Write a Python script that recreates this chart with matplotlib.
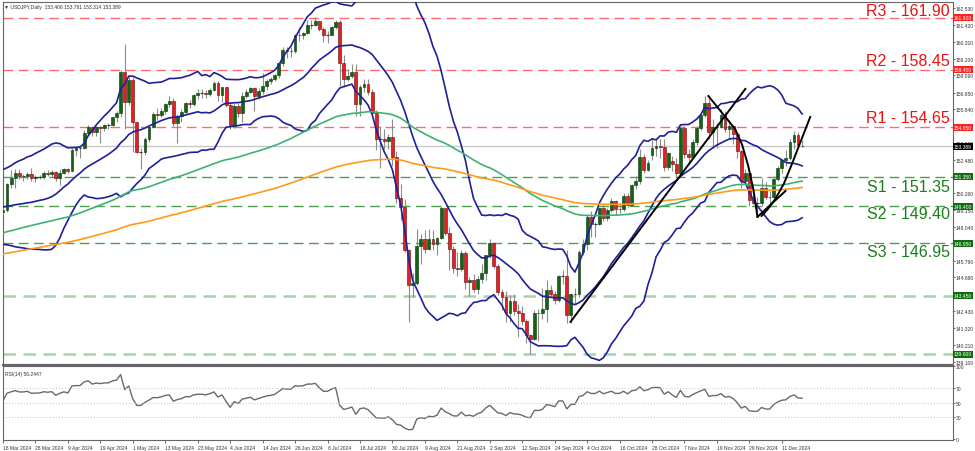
import numpy as np
import pandas as pd
import matplotlib
matplotlib.use('Agg')
import matplotlib.pyplot as plt
from matplotlib import transforms

# closes before the visible window (12 Jun 2023 - 15 Mar 2024), only used to warm up the indicators
prior_closes = [
    139.6, 140.2, 140.0, 140.3, 141.8, 141.9, 141.5, 141.9, 142.7, 143.7,
    143.5, 143.9, 144.4, 144.8, 144.3, 144.6, 144.5, 144.7, 144.1, 142.2,
    141.3, 140.4, 138.5, 138.1, 138.8, 138.7, 139.3, 139.7, 140.0, 141.8,
    141.5, 140.9, 140.3, 139.4, 141.2, 142.3, 143.3, 143.4, 142.5, 141.8,
    142.5, 143.4, 143.8, 144.6, 144.9, 145.6, 145.6, 146.4, 146.0, 145.4,
    146.2, 145.9, 144.8, 145.9, 146.4, 146.5, 145.9, 146.2, 145.5, 146.2,
    146.5, 147.7, 147.6, 147.3, 147.8, 146.6, 147.1, 147.5, 147.5, 147.9,
    147.9, 147.8, 148.3, 147.6, 148.4, 148.9, 149.1, 149.6, 149.3, 149.3,
    149.9, 149.0, 149.1, 148.5, 149.3, 148.5, 148.7, 149.1, 149.8, 149.6,
    149.6, 149.8, 149.8, 149.8, 149.9, 149.7, 149.9, 150.2, 150.4, 149.6,
    149.1, 151.7, 150.9, 150.4, 149.4, 150.0, 150.4, 150.9, 151.3, 151.5,
    151.7, 150.4, 151.3, 150.7, 149.6, 148.3, 148.4, 149.6, 149.5, 149.5,
    148.7, 147.5, 147.3, 148.2, 146.8, 147.2, 147.2, 147.3, 144.2, 144.9,
    146.1, 145.4, 142.9, 141.9, 142.2, 142.8, 143.8, 143.6, 142.1, 142.4,
    142.3, 142.4, 141.8, 141.4, 141.0, 141.0, 141.9, 143.3, 144.6, 144.6,
    144.2, 144.5, 145.7, 145.3, 144.9, 145.7, 147.2, 148.1, 148.1, 148.1,
    148.1, 148.4, 147.5, 147.6, 148.1, 147.5, 147.6, 146.9, 146.4, 148.4,
    148.7, 147.9, 148.2, 149.3, 149.3, 149.3, 150.8, 150.6, 149.9, 150.2,
    150.0, 150.0, 150.3, 150.5, 150.5, 150.7, 150.5, 150.7, 150.0, 150.1,
    150.5, 150.0, 149.4, 148.0, 147.1, 146.9, 147.7, 147.8, 148.3, 149.0,
]

# daily candles 18 Mar 2024 - 18 Dec 2024, one row per week
opens = [
    149.05, 149.15, 150.85, 151.25, 151.60,
    151.40, 151.40, 151.55, 151.30, 151.35,
    151.35, 151.60, 151.55, 151.65, 151.30,
    151.60, 151.85, 151.75, 153.15, 153.25,
    153.25, 154.25, 154.65, 154.35, 154.65,
    154.60, 154.80, 154.80, 155.35, 155.60,
    158.30, 156.35, 157.80, 155.00, 153.00,
    153.00, 153.90, 154.65, 155.50, 155.45,
    155.75, 156.20, 156.40, 154.90, 155.40,
    155.65, 156.25, 156.20, 156.80, 156.95,
    156.95, 156.85, 157.15, 157.60, 156.80,
    157.30, 156.10, 154.75, 156.05, 155.60,
    156.75, 157.00, 157.25, 156.70, 157.05,
    157.40, 157.70, 157.85, 158.10, 158.90,
    159.80, 159.70, 159.70, 160.80, 160.75,
    160.90, 161.45, 161.45, 161.70, 161.20,
    160.80, 160.80, 161.30, 161.65, 158.90,
    157.85, 158.05, 158.30, 156.20, 157.35,
    157.50, 157.00, 155.60, 153.90, 153.90,
    153.75, 154.00, 152.70, 149.95, 149.35,
    146.50, 144.20, 144.30, 146.80, 147.20,
    146.60, 147.20, 146.90, 147.30, 149.30,
    147.60, 146.60, 145.30, 145.25, 146.30,
    144.35, 144.50, 143.90, 144.60, 144.95,
    146.15, 146.95, 145.45, 143.70, 143.40,
    142.30, 143.10, 142.45, 142.35, 141.80,
    140.85, 140.60, 142.35, 142.30, 142.60,
    143.85, 143.60, 143.20, 144.80, 144.80,
    142.20, 143.60, 143.60, 146.40, 146.90,
    148.70, 148.20, 148.20, 149.30, 148.60,
    149.15, 149.75, 149.20, 149.25, 150.10,
    149.50, 150.80, 151.05, 152.70, 151.80,
    152.80, 153.30, 153.40, 153.35, 152.00,
    152.40, 152.20, 151.60, 154.60, 152.90,
    152.65, 153.70, 154.60, 155.45, 156.25,
    154.30, 154.65, 154.65, 155.45, 154.50,
    154.75, 154.20, 153.05, 151.10, 151.60,
    149.80, 149.60, 149.60, 150.60, 150.05,
    150.00, 151.20, 151.95, 152.45, 152.60,
    153.65, 154.15, 153.406,
]
highs = [
    149.35, 150.95, 151.80, 151.85, 151.85,
    151.55, 151.65, 151.95, 151.45, 151.45,
    151.75, 151.80, 151.80, 151.75, 151.85,
    151.95, 151.95, 153.25, 153.35, 153.40,
    154.45, 154.80, 154.75, 154.70, 154.70,
    154.85, 154.95, 155.35, 155.75, 158.45,
    160.20, 157.95, 157.95, 155.00, 153.30,
    154.00, 154.75, 155.65, 155.95, 155.95,
    156.25, 156.75, 156.60, 155.55, 155.85,
    156.30, 156.45, 156.85, 157.20, 157.20,
    157.10, 157.25, 157.70, 157.70, 157.30,
    157.30, 156.30, 156.25, 156.25, 157.00,
    157.20, 157.30, 157.35, 157.25, 158.25,
    157.85, 157.95, 158.20, 158.95, 159.95,
    159.95, 159.95, 160.85, 161.30, 161.00,
    161.75, 161.75, 161.95, 161.70, 161.30,
    161.05, 161.40, 161.75, 161.75, 159.45,
    158.50, 158.85, 158.85, 157.45, 157.85,
    157.85, 157.20, 155.80, 154.70, 154.50,
    154.20, 155.20, 153.10, 150.90, 149.90,
    146.55, 145.00, 147.90, 147.55, 147.80,
    147.90, 147.85, 147.35, 149.40, 149.20,
    148.00, 146.75, 146.40, 146.50, 146.45,
    144.70, 144.90, 144.75, 145.55, 146.20,
    147.20, 147.00, 145.60, 143.90, 143.80,
    143.50, 143.60, 142.95, 142.80, 141.90,
    140.90, 142.50, 142.60, 143.95, 144.50,
    144.20, 143.80, 144.85, 145.20, 146.50,
    143.65, 144.00, 146.50, 147.25, 148.80,
    149.10, 148.35, 149.35, 149.55, 149.30,
    149.95, 149.80, 149.60, 150.30, 150.30,
    150.90, 151.40, 153.20, 152.85, 152.45,
    153.90, 153.85, 153.85, 153.90, 153.00,
    152.75, 152.60, 154.70, 154.70, 153.20,
    153.90, 154.75, 155.60, 156.75, 156.75,
    155.20, 154.95, 155.85, 155.75, 155.10,
    154.75, 154.30, 153.15, 151.90, 151.65,
    150.75, 150.05, 151.25, 151.00, 150.40,
    151.40, 152.10, 152.50, 153.15, 153.85,
    154.40, 154.35, 153.781,
]
lows = [
    148.90, 149.05, 150.60, 150.60, 151.20,
    151.05, 151.20, 151.05, 151.00, 151.20,
    151.20, 151.40, 151.35, 151.05, 150.80,
    151.55, 151.60, 151.75, 152.75, 152.60,
    153.20, 154.15, 154.10, 154.10, 153.60,
    154.40, 154.50, 154.75, 155.00, 155.35,
    154.55, 156.10, 153.00, 152.95, 151.85,
    152.80, 153.65, 154.60, 155.10, 155.35,
    155.50, 156.00, 154.70, 153.60, 155.00,
    155.55, 155.95, 156.05, 156.50, 156.60,
    156.60, 156.70, 157.05, 156.40, 156.35,
    156.00, 154.55, 154.60, 155.30, 155.00,
    156.60, 156.90, 155.70, 156.50, 156.85,
    157.10, 157.50, 157.70, 157.90, 158.70,
    159.25, 159.30, 159.60, 160.35, 160.50,
    160.85, 161.20, 161.35, 161.05, 160.30,
    160.25, 160.75, 161.20, 157.40, 157.35,
    157.75, 157.90, 155.40, 155.40, 157.00,
    156.80, 155.30, 153.15, 151.95, 153.20,
    153.20, 152.10, 149.65, 148.50, 146.40,
    141.70, 143.40, 144.20, 145.60, 146.30,
    146.50, 146.50, 146.20, 147.20, 147.50,
    145.20, 144.95, 144.75, 145.10, 143.90,
    143.45, 143.70, 143.60, 144.30, 144.50,
    146.00, 145.30, 143.50, 142.50, 141.75,
    141.75, 142.20, 140.70, 141.55, 140.30,
    139.60, 140.50, 140.45, 141.90, 141.75,
    143.40, 142.90, 143.05, 144.25, 141.65,
    141.65, 142.95, 143.40, 146.20, 146.50,
    147.35, 147.35, 148.15, 148.40, 148.40,
    149.05, 148.85, 148.95, 149.10, 149.35,
    149.45, 150.55, 150.90, 151.60, 151.75,
    152.50, 152.75, 152.60, 151.75, 151.80,
    151.75, 151.35, 151.55, 152.60, 152.20,
    152.60, 153.50, 154.45, 155.35, 153.85,
    153.30, 153.30, 154.60, 154.30, 153.90,
    153.55, 152.60, 150.60, 151.00, 149.45,
    149.55, 149.10, 149.40, 149.90, 149.35,
    149.80, 151.10, 151.60, 152.05, 152.50,
    153.20, 153.25, 153.314,
]
closes = [
    149.15, 150.85, 151.25, 151.60, 151.40,
    151.40, 151.55, 151.30, 151.35, 151.35,
    151.60, 151.55, 151.65, 151.30, 151.60,
    151.85, 151.75, 153.15, 153.25, 153.25,
    154.25, 154.65, 154.35, 154.65, 154.60,
    154.80, 154.80, 155.35, 155.60, 158.30,
    156.35, 157.80, 155.00, 153.00, 153.00,
    153.90, 154.65, 155.50, 155.45, 155.75,
    156.20, 156.40, 154.90, 155.40, 155.65,
    156.25, 156.20, 156.80, 156.95, 156.95,
    156.85, 157.15, 157.60, 156.80, 157.30,
    156.10, 154.75, 156.05, 155.60, 156.75,
    157.00, 157.25, 156.70, 157.05, 157.40,
    157.70, 157.85, 158.10, 158.90, 159.80,
    159.70, 159.70, 160.80, 160.75, 160.90,
    161.45, 161.45, 161.70, 161.20, 160.80,
    160.80, 161.30, 161.65, 158.90, 157.85,
    158.05, 158.30, 156.20, 157.35, 157.50,
    157.00, 155.60, 153.90, 153.90, 153.75,
    154.00, 152.70, 149.95, 149.35, 146.50,
    144.20, 144.30, 146.80, 147.20, 146.60,
    147.20, 146.90, 147.30, 149.30, 147.60,
    146.60, 145.30, 145.25, 146.30, 144.35,
    144.50, 143.90, 144.60, 144.95, 146.15,
    146.95, 145.45, 143.70, 143.40, 142.30,
    143.10, 142.45, 142.35, 141.80, 140.85,
    140.60, 142.35, 142.30, 142.60, 143.85,
    143.60, 143.20, 144.80, 144.80, 142.20,
    143.60, 143.60, 146.40, 146.90, 148.70,
    148.20, 148.20, 149.30, 148.60, 149.15,
    149.75, 149.20, 149.25, 150.10, 149.50,
    150.80, 151.05, 152.70, 151.80, 152.30,
    153.30, 153.40, 153.35, 152.00, 152.95,
    152.20, 151.60, 154.60, 152.90, 152.65,
    153.70, 154.60, 155.45, 156.25, 154.30,
    154.65, 154.65, 155.45, 154.50, 154.75,
    154.20, 153.05, 151.10, 151.60, 149.80,
    149.60, 149.60, 150.60, 150.05, 150.00,
    151.20, 151.95, 152.45, 152.60, 153.65,
    154.15, 153.45, 153.389,
]

date_labels = ['18 Mar 2024', '28 Mar 2024', '9 Apr 2024', '19 Apr 2024', '1 May 2024',
               '13 May 2024', '23 May 2024', '4 Jun 2024', '14 Jun 2024', '26 Jun 2024',
               '8 Jul 2024', '18 Jul 2024', '30 Jul 2024', '9 Aug 2024', '21 Aug 2024',
               '2 Sep 2024', '12 Sep 2024', '24 Sep 2024', '4 Oct 2024', '16 Oct 2024',
               '28 Oct 2024', '7 Nov 2024', '19 Nov 2024', '29 Nov 2024', '11 Dec 2024']
# scale labels that are not hidden under the coloured tags
price_ticks = [162.53, 161.42, 160.31, 159.20, 158.09, 156.95, 155.84, 153.62,
               152.48, 150.26, 149.15, 148.04, 145.79, 144.68,
               142.43, 141.32, 140.21, 139.10]
rsi_ticks = [0, 30, 50, 70, 100]

res_levels = [161.90, 158.45, 154.65]
res_names = ['R3', 'R2', 'R1']
sup_levels = [151.35, 149.40, 146.95]
sup_names = ['S1', 'S2', 'S3']
minor_levels = [143.45, 139.60]
last_price = 153.389
header = '\u25bc USDJPY,Daily  153.406 153.781 153.314 153.389'
rsi_text = 'RSI(14) 56.2447'

# hand drawn trend lines (bar index, price)
trend_lines = [
    ([139.9, 183.0], [141.73, 157.19]),
    ([173.9, 180.5, 182.2, 183.7, 185.0, 186.0], [156.72, 154.53, 153.5, 152.1, 150.5, 148.7]),
    ([186.0, 192.9], [148.7, 150.42]),
    ([187.0, 188.5, 190.4, 192.5, 194.3, 196.5, 199.0],
     [148.76, 149.2, 149.89, 150.9, 152.08, 153.6, 155.33]),
]

# ---- indicators
allc = pd.Series(prior_closes + closes, dtype=float)
n0 = len(prior_closes)
mid = allc.rolling(20).mean()
sd = allc.rolling(20).std(ddof=0)
upper = (mid + 2 * sd).values[n0:]
lower = (mid - 2 * sd).values[n0:]
mid = mid.values[n0:]
ema100 = allc.ewm(span=100, adjust=False).mean().values[n0:]
ema200 = allc.ewm(span=200, adjust=False).mean().values[n0:]
d = allc.diff()
ag = d.clip(lower=0).ewm(alpha=1 / 14, adjust=False).mean()
al = (-d.clip(upper=0)).ewm(alpha=1 / 14, adjust=False).mean()
rsi = (100 - 100 / (1 + ag / al)).values[n0:]

# ---- figure
W, H = 975, 452
fig = plt.figure(figsize=(W / 100, H / 100), dpi=100)
small = dict(family='Liberation Sans', size=3.6)


def px_axes(l, t, r, b):
    return [l / W, 1 - b / H, (r - l) / W, (b - t) / H]


ax = fig.add_axes(px_axes(3, 3, 953, 366))
axr = fig.add_axes(px_axes(3, 367, 953, 441), sharex=ax)

x = np.arange(len(closes))
o = np.array(opens); h = np.array(highs); lo = np.array(lows); c = np.array(closes)
up = c > o
dn = c < o
flat = c == o

ax.vlines(x, lo, h, color='#8c8c8c', lw=0.8, zorder=3)
ax.bar(x[up], (c - o)[up], bottom=o[up], width=0.7, color='#106610',
       edgecolor='#0d2e0d', lw=0.4, zorder=4)
ax.bar(x[dn], (o - c)[dn], bottom=c[dn], width=0.7, color='#ee1c1c',
       edgecolor='#5a1010', lw=0.4, zorder=4)
ax.hlines(o[flat], x[flat] - 0.35, x[flat] + 0.35, color='#333333', lw=0.8, zorder=4)

band_col = '#1f1f99'
for s in (upper, mid, lower):
    ax.plot(x, s, color=band_col, lw=1.2, zorder=5)
ax.plot(x, ema100, color='#3cb371', lw=1.2, zorder=5)
ax.plot(x, ema200, color='#ff9a1a', lw=1.2, zorder=5)

for tx, ty in trend_lines:
    ax.plot(tx, ty, color='black', lw=1.4, zorder=6)

ax.axhline(last_price, color='#c8c8c8', lw=1.0, zorder=1)
for lv in res_levels:
    ax.axhline(lv, color='#ff6b6b', lw=1.0, dashes=(7, 4), zorder=2)
for lv in sup_levels:
    ax.axhline(lv, color='#4d9e4d', lw=1.0, dashes=(7, 4), zorder=2)
for lv in minor_levels:
    ax.axhline(lv, color='#a8d2a8', lw=1.8, dashes=(5, 3), zorder=2)

lab_tr = transforms.blended_transform_factory(ax.transAxes, ax.transData)
res_off = [7, 9, 10]
sup_off = [10, 7, 8]
for lv, nm, off in zip(res_levels, res_names, res_off):
    ax.annotate(f'{nm} - {lv:.2f}', (0.9968, lv), xycoords=lab_tr,
                xytext=(0, off * 0.72), textcoords='offset points',
                ha='right', va='center', fontsize=11.5, color='#ee1111',
                family='Liberation Sans', zorder=7)
for lv, nm, off in zip(sup_levels, sup_names, sup_off):
    ax.annotate(f'{nm} - {lv:.2f}', (0.9968, lv), xycoords=lab_tr,
                xytext=(0, -off * 0.72), textcoords='offset points',
                ha='right', va='center', fontsize=11.5, color='#1b7d1b',
                family='Liberation Sans', zorder=7)

ax.set_xlim(0.25, 234.2)
ax.set_ylim(138.87, 162.96)
ax.yaxis.tick_right()
ax.set_yticks(price_ticks)
ax.set_yticklabels([f'{v:.3f}' for v in price_ticks], fontdict=small)
ax.tick_params(axis='y', length=1.5, width=0.5, pad=0.6, colors='#333333')
ax.tick_params(axis='x', labelbottom=False, length=0)

# coloured price tags on the scale
tags = ([(lv, '#ff2020') for lv in res_levels] + [(last_price, '#000000')] +
        [(lv, '#0d6e0d') for lv in sup_levels + minor_levels])
for lv, col in tags:
    ax.text(1.001, lv, f'{lv:.3f}', transform=lab_tr, ha='left', va='center',
            color='white', clip_on=False, zorder=10, fontdict=small,
            bbox=dict(boxstyle='square,pad=0.2', fc=col, ec='none'))

# RSI panel
axr.plot(x, rsi, color='#6a6a6a', lw=1.0)
for lv in (30, 50, 70):
    axr.axhline(lv, color='#c0c0c0', lw=0.7, ls=(0, (1, 2)))
axr.set_ylim(-1, 100)
axr.yaxis.tick_right()
axr.set_yticks(rsi_ticks)
axr.set_yticklabels([str(v) for v in rsi_ticks], fontdict=small)
axr.tick_params(axis='y', length=1.5, width=0.5, pad=0.6, colors='#333333')
axr.set_xticks(np.arange(0, len(date_labels) * 8, 8))
axr.set_xticklabels(date_labels, ha='left', fontdict=small)
axr.tick_params(axis='x', length=2, width=0.5, pad=1.5, colors='#333333')
axr.text(0.002, 0.93, rsi_text, transform=axr.transAxes, va='top', color='#333333',
         fontdict=small)

for a in (ax, axr):
    for sp in a.spines.values():
        sp.set_color('#666666')
        sp.set_linewidth(0.8)
ax.spines['bottom'].set_linewidth(1.6)

fig.text(4 / W, 1 - 7 / H, header, va='center', color='#333333', fontdict=small)

fig.savefig('out.png', dpi=100, facecolor='white')
